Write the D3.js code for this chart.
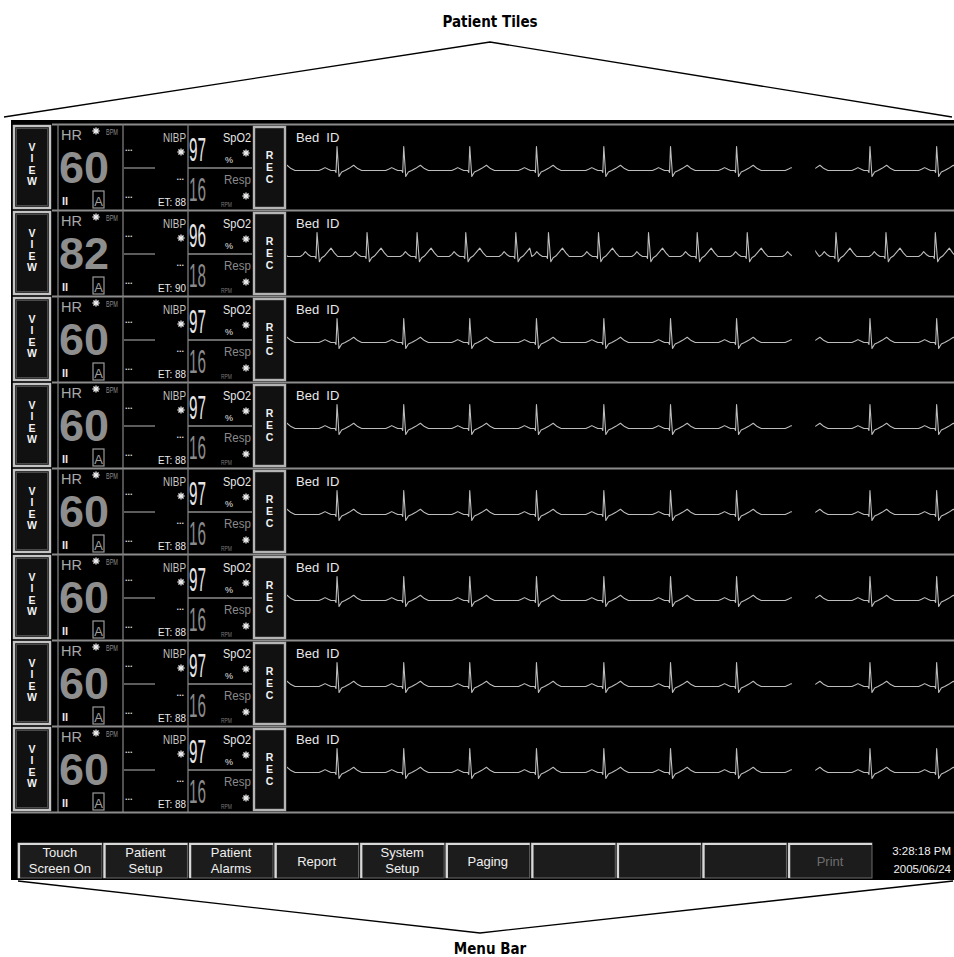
<!DOCTYPE html>
<html>
<head>
<meta charset="utf-8">
<script src="https://cdn.jsdelivr.net/npm/d3@7"></script>
<style>
  html, body { margin: 0; padding: 0; background: #fff; }
  svg { display: block; }
</style>
</head>
<body>
<div id="chart"></div>
<script>
// ---- data ----
const hrValues = [60, 82, 60, 60, 60, 60, 60, 60];
const spo2Values = [97, 96, 97, 97, 97, 97, 97, 97];
const respValues = [16, 18, 16, 16, 16, 16, 16, 16];
const etValues = [88, 90, 88, 88, 88, 88, 88, 88];
const bedLabels = ["Bed  ID", "Bed  ID", "Bed  ID", "Bed  ID", "Bed  ID", "Bed  ID", "Bed  ID", "Bed  ID"];

// R-peak times (seconds in the 10 s sweep window)
const beatsNormal = [-0.25, 0.75, 1.75, 2.74, 3.74, 4.75, 5.75, 6.74, 7.74, 8.74, 9.74];
const beatsFast = [-0.30, 0.45, 1.20, 1.95, 2.68, 3.43, 3.92, 4.67, 5.42, 6.15, 6.90, 7.68, 8.23, 8.98, 9.72];
const rowBeats = [beatsNormal, beatsFast, beatsNormal, beatsNormal, beatsNormal, beatsNormal, beatsNormal, beatsNormal];

// one beat (P-QRS-T), time from R peak (s) and amplitude (mV)
const beatNormalT = [-0.27, -0.22, -0.18, -0.13, -0.09, -0.03, -0.015, 0, 0.03, 0.07, 0.12, 0.18, 0.25, 0.31, 0.37];
const beatNormalV = [0, 0.06, 0.12, 0.05, 0, 0, -0.08, 1.0, -0.25, -0.06, 0, 0.09, 0.22, 0.08, 0];
const beatFastT = [-0.25, -0.21, -0.175, -0.13, -0.09, -0.03, -0.015, 0, 0.035, 0.07, 0.11, 0.16, 0.21, 0.26, 0.31];
const beatFastV = [0, 0.08, 0.2, 0.07, 0, 0, -0.08, 1.0, -0.22, -0.05, 0.02, 0.18, 0.35, 0.15, 0];
const rowShape = ["normal", "fast", "normal", "normal", "normal", "normal", "normal", "normal"];

const sweepGap = [7.57, 7.92]; // erase bar of the sweep (s)

const menuLabels = ["Touch\nScreen On", "Patient\nSetup", "Patient\nAlarms", "Report", "System\nSetup", "Paging", "", "", "", "Print"];
const menuEnabled = [true, true, true, true, true, true, true, true, true, false];
const clockLines = ["3:28:18 PM", "2005/06/24"];

// ---- drawing ----
const W = 954, H = 957;
const narrow = "'Liberation Sans Narrow', 'Liberation Sans', Arial, sans-serif";
const sans = "'Liberation Sans', Arial, sans-serif";
const labelFont = "'DejaVu Sans Condensed', 'DejaVu Sans', sans-serif";

const svg = d3.select("#chart").append("svg")
    .attr("width", W)
    .attr("height", H);

// screen
svg.append("rect")
    .attr("x", 11).attr("y", 120)
    .attr("width", W - 11).attr("height", 760)
    .attr("fill", "#000");

// callout labels
function callout(text, ty, apex, ends) {
    svg.append("polyline")
        .attr("points", [ends[0], apex, ends[1]].map(p => p.join(",")).join(" "))
        .attr("fill", "none")
        .attr("stroke", "#000")
        .attr("stroke-width", 1.3);
    svg.append("text")
        .attr("x", 490).attr("y", ty)
        .attr("text-anchor", "middle")
        .attr("font-family", labelFont)
        .attr("font-weight", "bold")
        .attr("font-size", 15)
        .text(text);
}
callout("Patient Tiles", 27, [490, 42], [[4, 117], [952, 117]]);
callout("Menu Bar", 954, [480, 933], [[18, 881], [953, 881]]);

const rowY = d3.scaleLinear().domain([0, 8]).range([124, 812]);
const rowH = rowY(1) - rowY(0);
const xTime = d3.scaleLinear().domain([0, 10]).range([287, 954]);
const yVolt = d3.scaleLinear().domain([-1, 1]).range([24, -24]);
const baseOffset = 46.5;

const line = d3.line()
    .x(d => xTime(d.t))
    .y(d => yVolt(d.v));

const defs = svg.append("defs");
defs.append("clipPath").attr("id", "wave-clip")
    .append("rect")
    .attr("x", xTime(0)).attr("y", -baseOffset + 2)
    .attr("width", xTime(10) - xTime(0)).attr("height", rowH - 4);

function beatPoints(beats, shape) {
    const tt = shape === "fast" ? beatFastT : beatNormalT;
    const vv = shape === "fast" ? beatFastV : beatNormalV;
    const pts = [];
    beats.forEach((b, i) => {
        const next = beats[i + 1];
        tt.forEach((dt, k) => {
            const t = b + dt;
            if (next !== undefined && t >= next + tt[0]) return;
            pts.push({ t, v: vv[k] });
        });
    });
    return pts;
}

function alarmIcon(g, cx, cy) {
    const r = 3.6;
    const ic = g.append("g").attr("transform", `translate(${cx},${cy})`)
        .attr("stroke", "#eee").attr("stroke-width", 1.3);
    [0, 45, 90, 135].forEach(a => {
        const rad = a * Math.PI / 180;
        ic.append("line")
            .attr("x1", -r * Math.cos(rad)).attr("y1", -r * Math.sin(rad))
            .attr("x2", r * Math.cos(rad)).attr("y2", r * Math.sin(rad));
    });
    ic.append("circle").attr("r", 1.6).attr("fill", "#eee").attr("stroke", "none");
}

function dots(g, x, y, anchor) {
    g.append("text")
        .attr("x", x).attr("y", y)
        .attr("text-anchor", anchor || "start")
        .attr("font-family", sans)
        .attr("font-weight", "bold")
        .attr("font-size", 9)
        .attr("fill", "#ddd")
        .text("...");
}

// text; opts.len squeezes it horizontally to that width (condensed monitor font)
function txt(g, s, x, y, size, fill, opts = {}) {
    const t = g.append("text")
        .attr("x", x).attr("y", y)
        .attr("font-family", opts.family || narrow)
        .attr("font-size", size)
        .attr("fill", fill)
        .attr("text-anchor", opts.anchor || "start")
        .attr("font-weight", opts.weight || "normal")
        .text(s);
    if (opts.len) {
        const w = t.node().getComputedTextLength() || opts.len;
        t.attr("x", 0).attr("y", 0)
            .attr("transform", `translate(${x},${y}) scale(${opts.len / w},1)`);
    }
    return t;
}

hrValues.forEach((hr, i) => {
    const top = rowY(i);
    const g = svg.append("g").attr("class", "tile");

    // frame lines
    g.append("line").attr("x1", 52).attr("x2", W).attr("y1", top + 0.5).attr("y2", top + 0.5)
        .attr("stroke", "#8c8c8c").attr("stroke-width", 2);
    [58, 123, 188].forEach(x => {
        g.append("line").attr("x1", x).attr("x2", x).attr("y1", top).attr("y2", top + rowH)
            .attr("stroke", "#7c7c7c").attr("stroke-width", 1.3);
    });
    g.append("line").attr("x1", 188).attr("x2", 252).attr("y1", top + 44).attr("y2", top + 44)
        .attr("stroke", "#8c8c8c").attr("stroke-width", 1.5);
    g.append("line").attr("x1", 124).attr("x2", 155).attr("y1", top + 44).attr("y2", top + 44)
        .attr("stroke", "#9a9a9a").attr("stroke-width", 1.2);

    // VIEW button
    g.append("rect").attr("x", 14).attr("y", top + 2).attr("width", 36).attr("height", rowH - 4)
        .attr("fill", "#111").attr("stroke", "#c4c4c4").attr("stroke-width", 2.4);
    g.append("rect").attr("x", 16.5).attr("y", top + 4.5).attr("width", 31).attr("height", rowH - 9)
        .attr("fill", "none").attr("stroke", "#4a4a4a").attr("stroke-width", 1);
    ["V", "I", "E", "W"].forEach((c, k) => {
        txt(g, c, 32, top + 27 + k * 11.3, 10.5, "#f2f2f2", { anchor: "middle", weight: "bold", family: sans });
    });

    // REC button
    g.append("rect").attr("x", 254).attr("y", top + 3).attr("width", 31).attr("height", rowH - 5)
        .attr("fill", "#111").attr("stroke", "#b4b4b4").attr("stroke-width", 2.4);
    ["R", "E", "C"].forEach((c, k) => {
        txt(g, c, 269.5, top + 35 + k * 12, 10.5, "#f2f2f2", { anchor: "middle", weight: "bold", family: sans });
    });

    // HR panel
    txt(g, "HR", 61, top + 16, 14.5, "#a8a8a8", { family: sans });
    alarmIcon(g, 96, top + 7);
    txt(g, "BPM", 106, top + 11, 8.5, "#8a8a8a", { len: 12 });
    txt(g, hr, 59, top + 59, 44, "#8e8e8e", { family: sans, weight: "bold", len: 50 });
    txt(g, "II", 62, top + 81, 11, "#e6e6e6", { family: sans, weight: "bold" });
    g.append("rect").attr("x", 93).attr("y", top + 67).attr("width", 11).attr("height", 17)
        .attr("fill", "none").attr("stroke", "#9a9a9a").attr("stroke-width", 1.2);
    txt(g, "A", 98.5, top + 82, 13, "#a0a0a0", { family: sans, anchor: "middle" });

    // NIBP panel
    txt(g, "NIBP", 186, top + 18, 12.5, "#c4c4c4", { anchor: "end", len: 23 });
    alarmIcon(g, 181, top + 28);
    dots(g, 125, top + 27);
    dots(g, 184, top + 56, "end");
    dots(g, 125, top + 74);
    txt(g, "ET: " + etValues[i], 186, top + 82, 11.5, "#eaeaea", { anchor: "end", len: 28 });

    // SpO2 / Resp panel
    txt(g, spo2Values[i], 189, top + 37, 33, "#e6e6e6", { len: 17 });
    txt(g, "SpO2", 251, top + 18, 13.5, "#e8e8e8", { anchor: "end", len: 28 });
    txt(g, "%", 225, top + 39, 9, "#e0e0e0", { family: sans });
    alarmIcon(g, 246, top + 29);
    txt(g, respValues[i], 189, top + 77, 33, "#8a8a8a", { len: 17 });
    txt(g, "Resp", 251, top + 60, 13, "#8a8a8a", { anchor: "end", len: 27 });
    txt(g, "RPM", 221, top + 83, 7.5, "#7a7a7a", { len: 11 });
    alarmIcon(g, 246, top + 72);

    // waveform
    txt(g, bedLabels[i], 296, top + 18, 13, "#e8e8e8", { family: sans }).style("white-space", "pre");
    const wg = g.append("g").attr("transform", `translate(0,${top + baseOffset})`);
    wg.append("path")
        .datum(beatPoints(rowBeats[i], rowShape[i]))
        .attr("clip-path", "url(#wave-clip)")
        .attr("fill", "none")
        .attr("stroke", "#bdbdbd")
        .attr("stroke-width", 1.1)
        .attr("stroke-linejoin", "round")
        .attr("d", line);
    wg.append("rect")
        .attr("x", xTime(sweepGap[0])).attr("y", -baseOffset + 2)
        .attr("width", xTime(sweepGap[1]) - xTime(sweepGap[0])).attr("height", rowH - 4)
        .attr("fill", "#000");
});

// bottom line of the last tile
svg.append("line").attr("x1", 11).attr("x2", W)
    .attr("y1", rowY(8) + 0.5).attr("y2", rowY(8) + 0.5)
    .attr("stroke", "#8c8c8c").attr("stroke-width", 2);

// menu bar
const menuX = d3.scaleBand().domain(d3.range(menuLabels.length)).range([18, 872]).paddingInner(0.02);
const menuTop = 843, menuH = 35;
const mg = svg.append("g").attr("class", "menu");
menuLabels.forEach((lab, k) => {
    const x0 = menuX(k), bw = menuX.bandwidth();
    mg.append("rect").attr("x", x0).attr("y", menuTop).attr("width", bw).attr("height", menuH)
        .attr("fill", "#1c1c1c").attr("stroke", "#6a6a6a").attr("stroke-width", 1);
    mg.append("polyline")
        .attr("points", `${x0 + 1},${menuTop + menuH} ${x0 + 1},${menuTop + 1} ${x0 + bw},${menuTop + 1}`)
        .attr("fill", "none").attr("stroke", "#d8d8d8").attr("stroke-width", 2.2);
    const lines = lab ? lab.split("\n") : [];
    const cx = x0 + bw / 2;
    const fill = menuEnabled[k] ? "#f0f0f0" : "#6e6e6e";
    if (lines.length === 1) {
        txt(mg, lines[0], cx, menuTop + 23, 13, fill, { family: sans, anchor: "middle" });
    } else {
        lines.forEach((s, j) => {
            txt(mg, s, cx, menuTop + 14 + j * 16, 13, fill, { family: sans, anchor: "middle" });
        });
    }
});
clockLines.forEach((s, j) => {
    txt(mg, s, 951, 855 + j * 18, 11.5, "#f0f0f0", { family: sans, anchor: "end" });
});
</script>
</body>
</html>
